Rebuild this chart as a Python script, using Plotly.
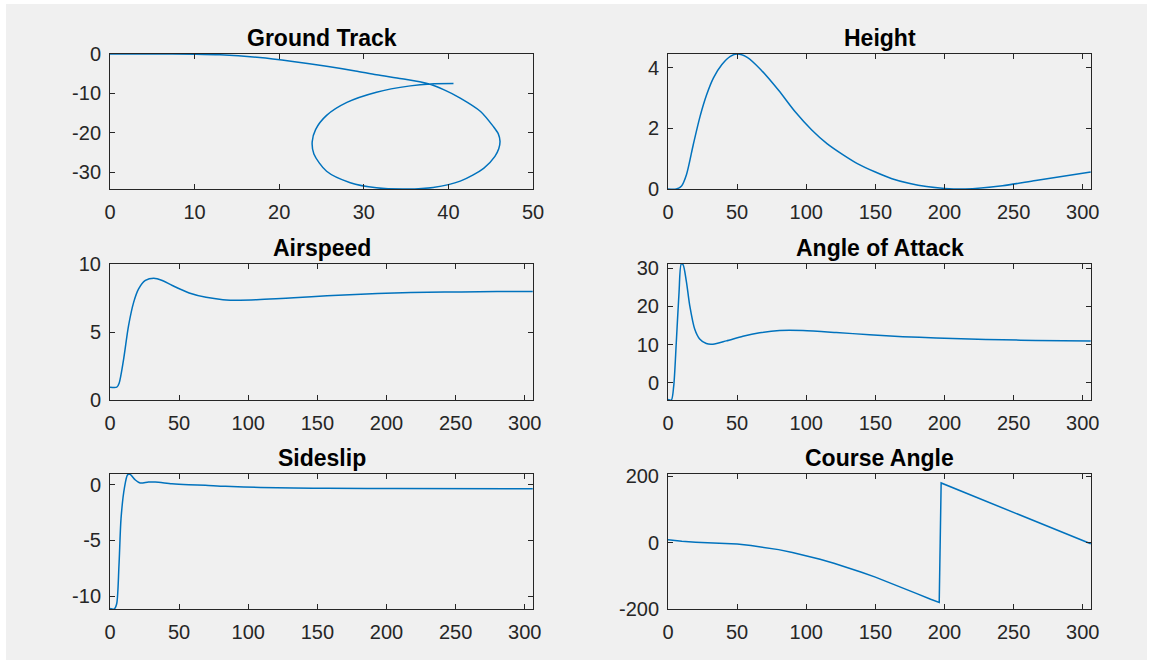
import plotly.graph_objects as go

# ---------------- data ----------------
# Ground track (x east, y north)
gt_x = [0, 5, 10, 13, 17.7, 21.6, 25.6, 29, 31.5, 34.5, 37.5, 39.5, 41.4, 43.8, 45.3, 45.9, 46.1,
        45.95, 45.5, 44.2, 41.4, 38.2, 35.1, 31.5, 28.4, 25.6, 24.1, 23.9, 24.3, 25.6, 28.0, 31.5,
        35.5, 37.9, 40.6]
gt_y = [0, 0, -0.05, -0.2, -0.9, -1.9, -3.1, -4.3, -5.3, -6.3, -7.5, -9.1, -11.2, -14.6, -18.4, -20.3, -22.2,
        -24.1, -26.0, -29.0, -32.3, -33.9, -34.3, -34.0, -32.7, -29.8, -25.4, -22.3, -19.2, -15.6, -12.3, -9.7,
        -8.1, -7.6, -7.5]

# Height
h_t = [0, 6, 9.8, 13.4, 18.3, 23.2, 28, 32.9, 39, 45.1, 50, 57.3, 67, 80, 92, 104,
       115, 127, 137, 150, 162, 175, 187, 200, 215, 242, 266, 305.8]
h_v = [0, 0, 0.1, 0.48, 1.47, 2.4, 3.12, 3.67, 4.11, 4.38, 4.46, 4.35, 3.95, 3.26, 2.55, 1.95,
       1.50, 1.12, 0.84, 0.56, 0.34, 0.18, 0.08, 0.02, 0.0, 0.11, 0.28, 0.56]

# Airspeed
a_t = [0, 4.9, 6.6, 9.8, 13.4, 17.1, 20.7, 25.6, 31.7, 37.8, 45.1, 57.3, 69.5, 81.7, 93.9,
       106, 120, 133, 157, 181.5, 205.6, 229.8, 254, 280, 305.8]
a_v = [0.94, 0.94, 1.24, 2.97, 5.45, 7.18, 8.17, 8.79, 8.96, 8.79, 8.42, 7.87, 7.55, 7.38, 7.34,
       7.37, 7.44, 7.52, 7.66, 7.78, 7.87, 7.92, 7.95, 7.97, 7.98]

# Angle of attack
aoa_t = [0, 2.4, 4.1, 6.0, 8.0, 9.6, 10.8, 13.3, 15.7, 19.3, 22.9, 27.7, 32.5, 42.2, 54.2,
         66.3, 80.7, 97.6, 121.7, 145.8, 169.9, 194, 218, 242, 266, 305.8]
aoa_v = [-4.3, -4.45, -0.9, 10.6, 23.8, 31.1, 31.0, 26.5, 20.3, 14.1, 11.5, 10.3, 10.15, 11.0, 12.2,
         13.1, 13.7, 13.7, 13.2, 12.6, 12.1, 11.78, 11.5, 11.28, 11.13, 11.0]

# Sideslip
s_t = [0, 3.1, 4.8, 6.5, 8.0, 10.4, 12.8, 14.5, 18.1, 21.8, 27.8, 32.7, 44.8, 56.9, 69, 83.5,
       108.9, 133, 157, 205.7, 305.8]
s_v = [-11.1, -11.15, -10.7, -7.2, -3.0, -0.3, 0.9, 0.93, 0.45, 0.15, 0.24, 0.24, 0.09, 0.0, -0.06, -0.15,
       -0.24, -0.29, -0.32, -0.35, -0.36]

# Course angle
c_t = [0, 10, 20, 30, 40, 50, 60, 70, 80, 90, 100, 110, 120, 130, 140, 150, 160, 170, 180, 190,
       196.2, 197.6, 220, 250, 280, 305.8]
c_v = [9, 4, 1.5, 0, -1.5, -4, -8.5, -14, -21, -29.5, -39, -50, -62, -75, -89, -104, -120, -136.5,
       -153.5, -170.5, -180, 180, 142, 91, 40, -3.5]

titles = ["Ground Track", "Height", "Airspeed", "Angle of Attack", "Sideslip", "Course Angle"]

xtick_vals = [[0, 10, 20, 30, 40, 50]] + [[0, 50, 100, 150, 200, 250, 300]] * 5
ytick_vals = [[-30, -20, -10, 0], [0, 2, 4], [0, 5, 10], [0, 10, 20, 30], [-10, -5, 0], [-200, 0, 200]]

# ---------------- layout geometry (page pixels) ----------------
W, H = 1147, 660
cols = [(110, 533), (668, 1091)]
rows = [(54, 189), (264, 400), (474, 609)]


def fx(px):
    return px / W


def fy(py):
    return 1 - py / H


LINE = "#0072BD"
AX = "#262626"
FONT = "Liberation Sans, Arial, Helvetica, sans-serif"

fig = go.Figure()

series = [
    (gt_x, gt_y, "spline"),
    (h_t, h_v, "spline"),
    (a_t, a_v, "spline"),
    (aoa_t, aoa_v, "spline"),
    (s_t, s_v, "spline"),
    (c_t, c_v, "linear"),
]
xranges = [[0, 50], [0, 306], [0, 306], [0, 306], [0, 306], [0, 306]]
yranges = [[-34.3, 0], [0, 4.46], [0, 10], [-4.45, 31.1], [-11.15, 0.96], [-200, 207]]


def lab(v):
    return ("-" if v < 0 else "") + str(abs(v))


layout = dict(
    width=W, height=H,
    margin=dict(l=0, r=0, t=0, b=0),
    paper_bgcolor="white",
    plot_bgcolor="white",
    showlegend=False,
    font=dict(family=FONT, color=AX),
)

annotations = []
for i, (xs, ys, shp) in enumerate(series):
    r, c = divmod(i, 2)
    n = i + 1
    xa = "x" if n == 1 else f"x{n}"
    ya = "y" if n == 1 else f"y{n}"
    line = dict(color=LINE, width=1.5, shape=shp)
    if shp == "spline":
        line["smoothing"] = 0.8
    fig.add_trace(go.Scatter(x=xs, y=ys, mode="lines", xaxis=xa, yaxis=ya,
                             line=line, hoverinfo="skip"))
    x0, x1 = cols[c]
    y0, y1 = rows[r]
    common = dict(showline=True, linecolor=AX, linewidth=1, mirror="allticks",
                  ticks="inside", ticklen=5, tickcolor=AX, tickwidth=1,
                  showgrid=False, zeroline=False, automargin=False,
                  tickfont=dict(family=FONT, size=20, color=AX))
    layout["xaxis" if n == 1 else f"xaxis{n}"] = dict(
        domain=[fx(x0), fx(x1)], anchor=ya, range=xranges[i],
        tickvals=xtick_vals[i], ticktext=[lab(v) for v in xtick_vals[i]],
        ticklabelstandoff=5, **common)
    layout["yaxis" if n == 1 else f"yaxis{n}"] = dict(
        domain=[fy(y1), fy(y0)], anchor=xa, range=yranges[i],
        tickvals=ytick_vals[i], ticktext=[lab(v) for v in ytick_vals[i]],
        ticklabelstandoff=4, **common)
    annotations.append(dict(
        text="<b>" + titles[i] + "</b>", xref="paper", yref="paper",
        x=fx((x0 + x1) / 2), y=fy(y0 - 16), xanchor="center", yanchor="middle",
        showarrow=False, font=dict(family=FONT, size=23, color="#000000")))

layout["annotations"] = annotations
layout["shapes"] = [dict(type="rect", xref="paper", yref="paper", layer="below",
                         x0=fx(6), x1=1, y0=0, y1=fy(4),
                         fillcolor="#f0f0f0", line=dict(width=0))]
fig.update_layout(**layout)

fig.write_html("out.html")
